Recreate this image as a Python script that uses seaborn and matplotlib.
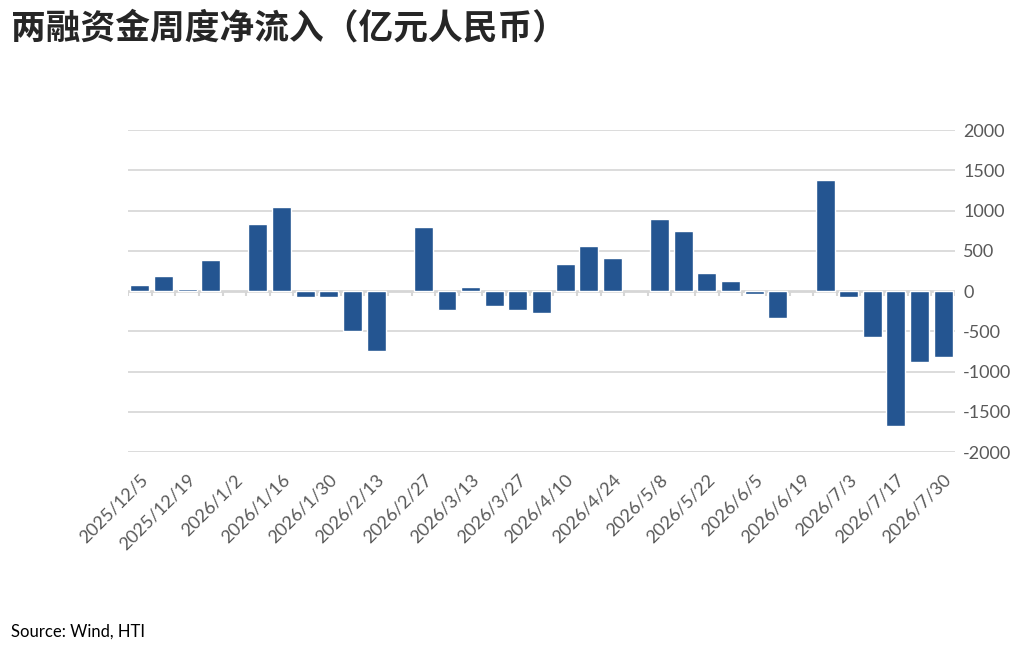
import numpy as np
import pandas as pd
import matplotlib
matplotlib.use("Agg")
import matplotlib.pyplot as plt
import seaborn as sns

# weekly dates (Friday), holiday weeks have no bar
dates = ["2025/12/5", "2025/12/12", "2025/12/19", "2025/12/26", "2026/1/2", "2026/1/9",
         "2026/1/16", "2026/1/23", "2026/1/30", "2026/2/6", "2026/2/13", "2026/2/20",
         "2026/2/27", "2026/3/6", "2026/3/13", "2026/3/20", "2026/3/27", "2026/4/3",
         "2026/4/10", "2026/4/17", "2026/4/24", "2026/5/1", "2026/5/8", "2026/5/15",
         "2026/5/22", "2026/5/29", "2026/6/5", "2026/6/12", "2026/6/19", "2026/6/26",
         "2026/7/3", "2026/7/10", "2026/7/17", "2026/7/24", "2026/7/30"]
net_inflow = [75, 185, 30, 390, np.nan, 830,
              1040, -70, -70, -500, -750, np.nan,
              800, -230, 55, -180, -235, -270,
              330, 560, 415, np.nan, 895, 740,
              220, 120, -40, -330, np.nan, 1385,
              -70, -575, -1680, -880, -820]
yticks = [-2000, -1500, -1000, -500, 0, 500, 1000, 1500, 2000]

BAR = "#245591"
GRID = "#d6d6d6"
TXT = "#595959"

df = pd.DataFrame({"date": dates, "value": net_inflow})

sns.set_style("white")
plt.rcParams["font.family"] = ["Lato", "DejaVu Sans"]

fig = plt.figure(figsize=(10.28, 6.45), dpi=100)
ax = fig.add_axes([0.1245, 0.2992, 0.8045, 0.4992])

sns.barplot(data=df, x="date", y="value", color=BAR, width=0.8, saturation=1,
            order=dates, ax=ax, zorder=3)

ax.set_ylim(-2000, 2000)
ax.set_xlim(-0.5, len(dates) - 0.5)
ax.set_yticks(yticks)
ax.set_yticklabels([str(v) for v in yticks])
ax.yaxis.tick_right()
ax.tick_params(axis="y", length=0, pad=6, labelsize=13, labelcolor=TXT)
for v in yticks:
    if v != 0:
        ax.axhline(v, color=GRID, lw=1.2, zorder=1)
ax.axhline(0, color=GRID, lw=2.0, zorder=2)
# small category separator ticks below the zero line
ax.vlines(np.arange(len(dates) + 1) - 0.5, -62, 0, color=GRID, lw=1.5, zorder=2)

pos = np.arange(0, len(dates), 2)
ax.set_xticks(pos)
ax.set_xticklabels([dates[i] for i in pos], rotation=45, ha="right",
                   rotation_mode="anchor")
ax.tick_params(axis="x", length=0, pad=14, labelsize=13, labelcolor=TXT)

ax.set_xlabel("")
ax.set_ylabel("")
sns.despine(ax=ax, left=True, bottom=True, right=True, top=True)

fig.text(0.011, 0.957, "两融资金周度净流入（亿元人民币）", fontsize=25, fontweight="bold",
         va="center", ha="left", family=["Noto Sans CJK SC", "DejaVu Sans"])
fig.text(0.011, 0.021, "Source: Wind, HTI", fontsize=12, va="center", ha="left", color="black")

fig.savefig("out.png", dpi=100)
